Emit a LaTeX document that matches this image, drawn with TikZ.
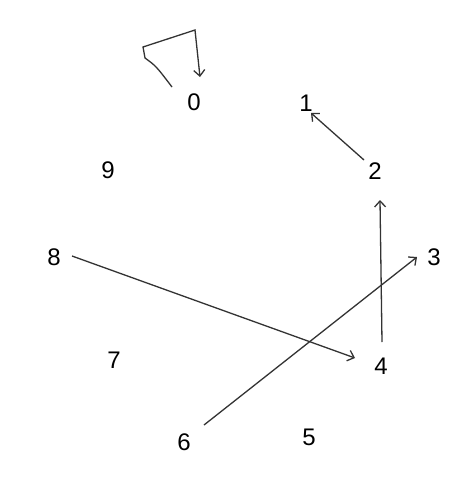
\documentclass[tikz,border=0pt]{standalone}
\usepackage{fontspec}
\setmainfont{Liberation Sans}
\usetikzlibrary{arrows.meta}
\begin{document}
\begin{tikzpicture}[x=1pt,y=-1pt,
  vert/.style={inner sep=0pt,font=\fontsize{24}{24}\selectfont},
  edge/.style={draw=black!80,line width=1.3pt,-{Straight Barb[length=6pt,width=11pt]}}]
\useasboundingbox[fill=white] (0,0) rectangle (471,479);
\node[vert] (n0) at (194,102) {0};
\node[vert] (n1) at (306,103) {1};
\node[vert] (n2) at (375,171) {2};
\node[vert] (n3) at (434,257) {3};
\node[vert] (n4) at (381,366) {4};
\node[vert] (n5) at (309,437) {5};
\node[vert] (n6) at (184,442) {6};
\node[vert] (n7) at (114,360) {7};
\node[vert] (n8) at (54,257) {8};
\node[vert] (n9) at (108,170) {9};
\draw[edge] ([shift={(-22,-15)}]n0.center) .. controls ([shift={(-38,-36)}]n0.center) .. ([shift={(-49,-44)}]n0.center) -- ([shift={(-51,-55)}]n0.center) -- ([shift={(1,-72)}]n0.center) -- ([shift={(6,-25)}]n0.center);
\draw[edge] ([shift={(-11,-11)}]n2.center) -- ([shift={(5,10)}]n1.center);
\draw[edge] ([shift={(1,-24)}]n4.center) -- ([shift={(5,29)}]n2.center);
\draw[edge] ([shift={(20,-17)}]n6.center) -- ([shift={(-17,0)}]n3.center);
\draw[edge] ([shift={(18,-1)}]n8.center) -- ([shift={(-26,-8)}]n4.center);
\end{tikzpicture}
\end{document}
